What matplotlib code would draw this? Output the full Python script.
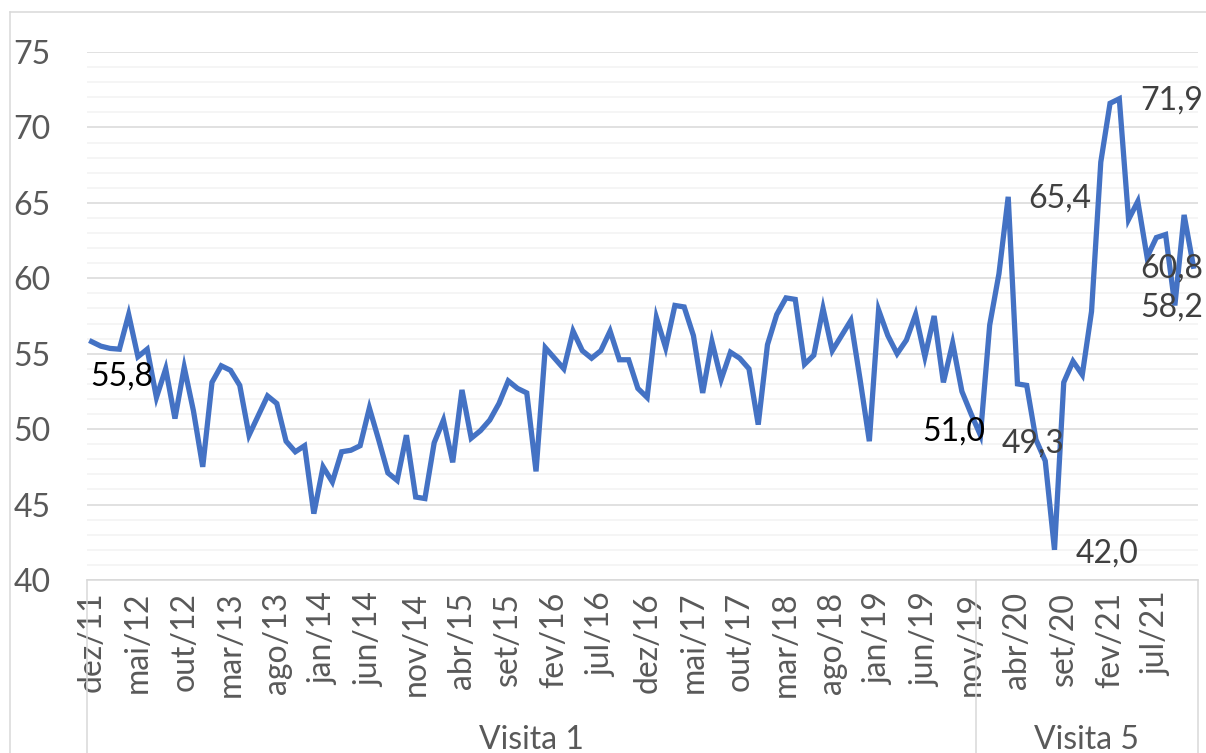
import matplotlib
matplotlib.use("Agg")
import matplotlib.pyplot as plt
from matplotlib.lines import Line2D

plt.rcParams['font.family'] = ['Lato', 'DejaVu Sans']

# monthly index values, dez/11 .. nov/21
values = [
    55.8, 55.5, 55.35, 55.3, 57.6, 54.8, 55.3, 52.1, 54.0, 50.7,
    54.1, 51.2, 47.5, 53.1, 54.2, 53.9, 52.9, 49.6, 50.9, 52.2,
    51.7, 49.2, 48.5, 48.9, 44.4, 47.5, 46.5, 48.5, 48.6, 48.9,
    51.4, 49.3, 47.1, 46.6, 49.6, 45.5, 45.4, 49.1, 50.6, 47.8,
    52.6, 49.4, 49.9, 50.6, 51.7, 53.2, 52.7, 52.4, 47.2, 55.4,
    54.7, 54.0, 56.5, 55.2, 54.7, 55.2, 56.5, 54.6, 54.6, 52.7,
    52.1, 57.4, 55.4, 58.2, 58.1, 56.2, 52.4, 55.8, 53.3, 55.1,
    54.7, 54.0, 50.3, 55.6, 57.6, 58.7, 58.6, 54.3, 54.9, 58.0,
    55.2, 56.2, 57.2, 53.3, 49.2, 57.9, 56.2, 55.0, 55.9, 57.6,
    54.8, 57.5, 53.1, 55.7, 52.5, 51.0, 49.6, 56.9, 60.3, 65.4,
    53.0, 52.9, 49.3, 47.9, 42.0, 53.1, 54.5, 53.6, 57.8, 67.7,
    71.6, 71.9, 63.9, 65.1, 61.4, 62.7, 62.9, 58.2, 64.2, 60.8,
]

tick_labels = ["dez/11", "mai/12", "out/12", "mar/13", "ago/13", "jan/14",
               "jun/14", "nov/14", "abr/15", "set/15", "fev/16", "jul/16",
               "dez/16", "mai/17", "out/17", "mar/18", "ago/18", "jan/19",
               "jun/19", "nov/19", "abr/20", "set/20", "fev/21", "jul/21"]

groups = ["Visita 1", "Visita 5"]
group_sizes = [96, 24]

# data labels: text, x position (month index), y position
label_texts = ["55,8", "51,0", "49,3", "42,0", "65,4", "71,9", "60,8", "58,2"]
label_x = [3.3, 93.1, 101.7, 109.7, 104.6, 116.7, 116.7, 116.7]
label_y = [53.5, 49.85, 49.05, 41.75, 65.3, 71.8, 60.65, 58.05]
label_colors = ["black", "black", "#404040", "#404040", "#404040", "#404040",
                "#404040", "#404040"]

W, H = 1206, 753
fig = plt.figure(figsize=(W / 100, H / 100), dpi=100)
ax = fig.add_axes([87 / W, 173 / H, 1111 / W, 528 / H])

x = list(range(len(values)))
ax.plot(x, values, color="#4472C4", lw=3.8, solid_joinstyle="miter", zorder=3)

ax.set_xlim(-0.5, len(values) - 0.5)
ax.set_ylim(40, 75)

# gridlines
ax.set_yticks(range(40, 76, 5))
ax.set_yticks([v for v in range(40, 76) if v % 5], minor=True)
ax.grid(which="major", axis="y", color="#D9D9D9", lw=1.1)
ax.grid(which="minor", axis="y", color="#F2F2F2", lw=1.1)
ax.set_axisbelow(True)

for s in ["left", "right", "top"]:
    ax.spines[s].set_visible(False)
ax.spines["bottom"].set_color("#D9D9D9")
ax.spines["bottom"].set_linewidth(1.1)

ax.tick_params(axis="y", which="both", length=0, pad=26, labelsize=23,
               labelcolor="#595959")
ax.set_xticks(range(0, len(values), 5))
ax.set_xticklabels(tick_labels, rotation=90)
ax.tick_params(axis="x", length=0, pad=8.5, labelsize=23, labelcolor="#595959")

# multi-level category axis
bounds = [-0.5]
for n in group_sizes:
    bounds.append(bounds[-1] + n)
tr = ax.get_xaxis_transform()
for b in bounds:
    ax.plot([b, b], [0, -0.4], transform=tr, clip_on=False, color="#D9D9D9", lw=1.1)
for g, a, b in zip(groups, bounds[:-1], bounds[1:]):
    ax.text((a + b) / 2, -0.303, g, transform=tr, ha="center", va="center",
            fontsize=23, color="#595959")

for t, lx, ly, c in zip(label_texts, label_x, label_y, label_colors):
    ax.text(lx, ly, t, ha="center", va="center", fontsize=23, color=c, zorder=4)

# chart area border
fig.add_artist(Line2D([10 / W, 10 / W], [0, 1 - 12 / H], color="#D9D9D9", lw=1.1))
fig.add_artist(Line2D([10 / W, 1], [1 - 12 / H, 1 - 12 / H], color="#D9D9D9", lw=1.1))

fig.savefig("out.png", dpi=100)
